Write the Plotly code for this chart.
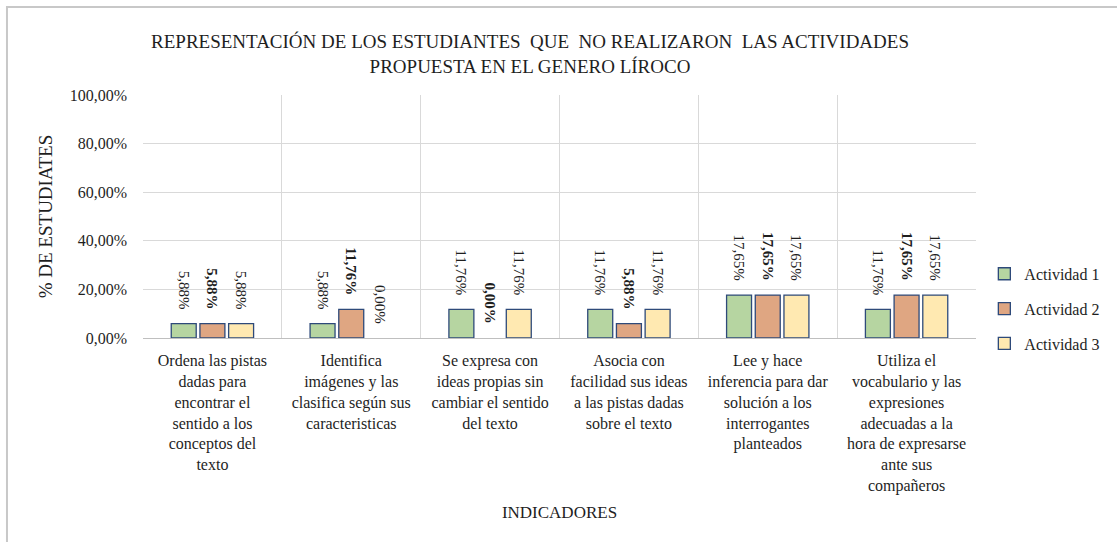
import plotly.graph_objects as go

indicadores = [
    "Ordena las pistas<br>dadas para<br>encontrar el<br>sentido a los<br>conceptos del<br>texto",
    "Identifica<br>imágenes y las<br>clasifica según sus<br>caracteristicas",
    "Se expresa con<br>ideas propias sin<br>cambiar el sentido<br>del texto",
    "Asocia con<br>facilidad sus ideas<br>a las pistas dadas<br>sobre el texto",
    "Lee y hace<br>inferencia para dar<br>solución a los<br>interrogantes<br>planteados",
    "Utiliza el<br>vocabulario y las<br>expresiones<br>adecuadas a la<br>hora de expresarse<br>ante sus<br>compañeros",
]
actividad1 = [0.0588, 0.0588, 0.1176, 0.1176, 0.1765, 0.1176]
actividad2 = [0.0588, 0.1176, 0.0000, 0.0588, 0.1765, 0.1765]
actividad3 = [0.0588, 0.0000, 0.1176, 0.1176, 0.1765, 0.1765]

series = [
    ("Actividad 1", actividad1, "#B6D5A1", "%{y:.2%}"),
    ("Actividad 2", actividad2, "#DFA682", "<b>%{y:.2%}</b>"),
    ("Actividad 3", actividad3, "#FFE9B1", "%{y:.2%}"),
]

font = "Liberation Serif"
ink = "#1E1E1E"

fig = go.Figure()
for i, (name, vals, color, tmpl) in enumerate(series):
    fig.add_trace(go.Bar(
        name=name, x=indicadores, y=vals,
        marker=dict(color=color,
                    line=dict(color="#2E4A7A", width=[0 if v == 0 else 1.3 for v in vals])),
        texttemplate=tmpl + "\u00a0\u00a0\u00a0", textposition="outside",
        textangle=90, cliponaxis=False, constraintext="none",
        textfont=dict(family=font, size=15, color=ink),
        legendgroup=str(i),
    ))

fig.update_layout(
    width=1117, height=542,
    barmode="group", bargap=0.38, bargroupgap=0.13,
    separators=",.",
    paper_bgcolor="white", plot_bgcolor="white",
    font=dict(family=font, color=ink),
    margin=dict(l=143, r=141, t=95, b=204, autoexpand=False),
    title=dict(
        text="REPRESENTACIÓN DE LOS ESTUDIANTES  QUE  NO REALIZARON  LAS ACTIVIDADES<br>PROPUESTA EN EL GENERO LÍROCO",
        x=0.4745, xanchor="center", y=0.9115, yanchor="middle",
        font=dict(size=19, family=font, color=ink),
    ),
    legend=dict(
        x=1.01, xanchor="left", y=0.12, yanchor="middle",
        font=dict(size=16, family=font, color=ink),
        tracegroupgap=11, traceorder="grouped",
        itemwidth=30,
    ),
)
fig.update_xaxes(
    type="category", tickson="boundaries", showgrid=True, gridcolor="#D9D9D9",
    showline=True, linecolor="#BFBFBF", ticks="", automargin=False,
    tickfont=dict(size=16, family=font, color=ink),
    ticklabelstandoff=8,
    title=dict(text="INDICADORES", font=dict(size=17, family=font, color=ink), standoff=12),
)
fig.update_yaxes(
    range=[0, 1], dtick=0.2, tickformat=".2%", automargin=False,
    showgrid=True, gridcolor="#D9D9D9", zeroline=False,
    tickfont=dict(size=16, family=font, color=ink),
    ticklabelstandoff=15,
    title=dict(text="% DE ESTUDIATES", font=dict(size=19, family=font, color=ink), standoff=12),
)
fig.add_shape(
    type="rect", xref="paper", yref="paper",
    x0=-0.1633, x1=1.4, y0=-1.2, y1=1.362,
    line=dict(color="#C8C8C8", width=2), layer="below",
)

fig.write_html("out.html", config={"displayModeBar": False},
               post_script="document.body.style.margin='0';")
